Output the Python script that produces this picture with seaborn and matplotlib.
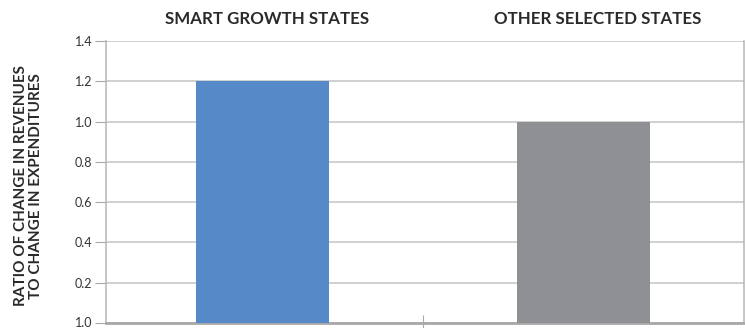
import matplotlib
matplotlib.use("Agg")
import matplotlib.pyplot as plt
import matplotlib.transforms as mtransforms
import seaborn as sns
import pandas as pd

# Chart data
categories = ["SMART GROWTH STATES", "OTHER SELECTED STATES"]
ratios = [1.2, 1.0]
bar_colors = ["#5589C8", "#8F9093"]
y_ticks = [0.0, 0.2, 0.4, 0.6, 0.8, 1.0, 1.2, 1.4]
y_tick_labels = ["1.0", "0.2", "0.4", "0.6", "0.8", "1.0", "1.2", "1.4"]
y_title = "RATIO OF CHANGE IN REVENUES\nTO CHANGE IN EXPENDITURES"

sns.set_theme(style="white")
plt.rcParams["font.family"] = ["Lato", "DejaVu Sans"]

df = pd.DataFrame({"group": categories, "ratio": ratios})

fig = plt.figure(figsize=(7.45, 3.28), dpi=100)
ax = fig.add_axes([0.1423, 0.0152, 0.8564, 0.8598])

sns.barplot(data=df, x="group", y="ratio", hue="group", palette=bar_colors,
            order=categories, hue_order=categories, width=0.415,
            saturation=1, linewidth=0, legend=False, ax=ax, zorder=3)

ax.set_xlim(-0.488, 1.501)
ax.set_ylim(0, 1.4)
ax.set_yticks(y_ticks)
ax.set_yticklabels(y_tick_labels, fontsize=9, color="#333333")
ax.tick_params(axis="y", length=8, width=0.8, color="#aaaaaa", pad=2, left=True)

# lift the baseline label slightly so it stays inside the figure
base_label = ax.get_yticklabels()[0]
base_label.set_transform(base_label.get_transform() +
                         mtransforms.ScaledTranslation(0, 1.5 / 100, fig.dpi_scale_trans))

# category names across the top
ax.xaxis.tick_top()
ax.set_xticks(range(len(categories)))
ax.set_xticklabels(categories, fontsize=12.2, fontweight="bold", color="#2a2a2a")
ax.tick_params(axis="x", length=0, pad=10)
ax.set_xlabel("")
# nudge the headers a little to the right of the bar centres
for lbl, dx in zip(ax.get_xticklabels(), [5, 14]):
    lbl.set_transform(lbl.get_transform() +
                      mtransforms.ScaledTranslation(dx / 100, 0, fig.dpi_scale_trans))

# separator tick between the two groups on the baseline
ax.set_xticks([0.5], minor=True)
ax.tick_params(axis="x", which="minor", bottom=True, top=False,
               direction="inout", length=12, width=0.8, color="#aaaaaa")

ax.grid(axis="y", color="#c4c4c4", linewidth=1.1, zorder=0)
ax.grid(axis="x", visible=False)

for side in ["left", "right"]:
    ax.spines[side].set_color("#b5b5b5")
    ax.spines[side].set_linewidth(1.1)
ax.spines["top"].set_visible(False)
ax.spines["bottom"].set_color("#a8a8a8")
ax.spines["bottom"].set_linewidth(2)

ax.set_ylabel(y_title, fontsize=11, fontweight="bold", color="#2a2a2a",
              linespacing=1.12, va="center", ha="center")
ax.yaxis.set_label_coords(28.5 / 745, (328 - 186) / 328, transform=fig.transFigure)

fig.savefig("out.png", dpi=100)
